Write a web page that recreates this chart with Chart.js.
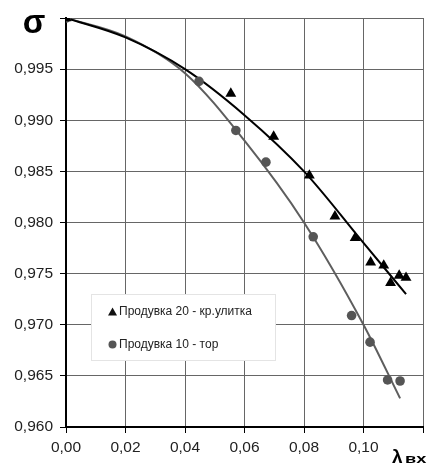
<!DOCTYPE html>
<html>
<head>
<meta charset="utf-8">
<script src="https://cdn.jsdelivr.net/npm/chart.js@4"></script>
<style>
  body { margin: 0; background: #fff; }
  canvas { display: block; }
</style>
</head>
<body>
<canvas id="chart" width="433" height="464"></canvas>
<script>
// measured points - Продувка 20 (triangles)
const blowX20 = [0, 0.0554, 0.0698, 0.0818, 0.0904, 0.0972, 0.1024, 0.1068, 0.1091, 0.1120, 0.1143];
const blowY20 = [1.000, 0.9926, 0.9884, 0.9846, 0.9806, 0.9785, 0.9761, 0.9758, 0.9741, 0.9748, 0.9746];
// measured points - Продувка 10 (circles)
const blowX10 = [0, 0.0447, 0.0571, 0.0672, 0.0831, 0.0960, 0.1022, 0.1081, 0.1123];
const blowY10 = [1.000, 0.9938, 0.9890, 0.9859, 0.9786, 0.9709, 0.9683, 0.9646, 0.9645];
// trend curves
const trendX20 = [0, 0.02, 0.04, 0.06, 0.08, 0.10, 0.1143];
const trendY20 = [1.000, 0.9981, 0.9950, 0.9905, 0.9850, 0.9780, 0.9730];
const trendX10 = [0, 0.02, 0.04, 0.06, 0.08, 0.10, 0.1123];
const trendY10 = [1.000, 0.9982, 0.9946, 0.9880, 0.9800, 0.9700, 0.9628];

const labels = ['Продувка 20 - кр.улитка', 'Продувка 10 - тор'];
const xTicks = [0, 0.02, 0.04, 0.06, 0.08, 0.10, 0.12];
const yTicks = [0.960, 0.965, 0.970, 0.975, 0.980, 0.985, 0.990, 0.995, 1.000];

const FONT = '"Liberation Sans", Arial, sans-serif';

function pts(xs, ys) {
    return xs.map((x, i) => ({ x: x, y: ys[i] }));
}
function comma(v, d) {
    return v.toFixed(d).replace('.', ',');
}

// draws σ, λвх and the boxed legend on top of the plot
const extrasPlugin = {
    id: 'extras',
    afterDraw(chart) {
        const ctx = chart.ctx;
        ctx.save();

        // axis names
        ctx.fillStyle = '#000';
        ctx.textBaseline = 'alphabetic';
        ctx.textAlign = 'center';
        ctx.font = 'bold 33px ' + FONT;
        ctx.fillText('σ', 34, 33);

        ctx.textAlign = 'left';
        ctx.font = 'bold 19px ' + FONT;
        ctx.fillText('λ', 392, 463);
        ctx.save();
        ctx.translate(405, 463);
        ctx.scale(1.4, 1);
        ctx.font = 'bold 13px ' + FONT;
        ctx.fillText('вх', 0, 0);
        ctx.restore();

        // legend box
        const lx = 91, ly = 294, lw = 184, lh = 66;
        ctx.fillStyle = '#fff';
        ctx.fillRect(lx, ly, lw, lh);
        ctx.strokeStyle = '#e4e4e4';
        ctx.lineWidth = 1;
        ctx.strokeRect(lx + 0.5, ly + 0.5, lw, lh);

        ctx.font = '12px ' + FONT;
        ctx.textBaseline = 'middle';
        ctx.fillStyle = '#222';
        ctx.fillText(labels[0], 119, 312);
        ctx.fillText(labels[1], 119, 345);

        ctx.fillStyle = '#111';
        ctx.beginPath();
        ctx.moveTo(112.5, 307.5);
        ctx.lineTo(117, 315.5);
        ctx.lineTo(108, 315.5);
        ctx.closePath();
        ctx.fill();

        ctx.fillStyle = '#555';
        ctx.beginPath();
        ctx.arc(112.5, 344.5, 4, 0, Math.PI * 2);
        ctx.fill();

        ctx.restore();
    }
};

const ctx = document.getElementById('chart').getContext('2d');
const chart = new Chart(ctx, {
    type: 'scatter',
    data: {
        datasets: [
            {
                label: labels[0] + ' trend',
                data: pts(trendX20, trendY20),
                showLine: true,
                borderColor: '#000',
                borderWidth: 2,
                pointRadius: 0,
                cubicInterpolationMode: 'monotone',
                order: 3
            },
            {
                label: labels[1] + ' trend',
                data: pts(trendX10, trendY10),
                showLine: true,
                borderColor: '#5e5e5e',
                borderWidth: 2,
                pointRadius: 0,
                cubicInterpolationMode: 'monotone',
                order: 4
            },
            {
                label: labels[0],
                data: pts(blowX20, blowY20),
                pointStyle: 'triangle',
                pointRadius: 6.3,
                backgroundColor: '#000',
                borderColor: '#000',
                borderWidth: 0,
                order: 1
            },
            {
                label: labels[1],
                data: pts(blowX10, blowY10),
                pointStyle: 'circle',
                pointRadius: 4.8,
                backgroundColor: '#555',
                borderColor: '#555',
                borderWidth: 0,
                order: 2
            }
        ]
    },
    options: {
        responsive: false,
        animation: false,
        layout: { padding: { top: 18, right: 10, left: 0, bottom: 0 } },
        plugins: {
            legend: { display: false },
            tooltip: { enabled: false }
        },
        scales: {
            x: {
                type: 'linear',
                min: 0,
                max: 0.12,
                afterBuildTicks: scale => { scale.ticks = xTicks.map(v => ({ value: v })); },
                afterFit: scale => { scale.height = 37; },
                grid: { color: '#666', lineWidth: 1, tickLength: 6, tickColor: '#000' },
                border: { color: '#000', width: 2 },
                ticks: {
                    padding: 5,
                    color: '#222',
                    font: { family: FONT, size: 15.5 },
                    maxRotation: 0,
                    callback: v => (v > 0.1199 ? '' : comma(v, 2))
                }
            },
            y: {
                type: 'linear',
                min: 0.96,
                max: 1.0,
                afterBuildTicks: scale => { scale.ticks = yTicks.map(v => ({ value: v })); },
                afterFit: scale => { scale.width = 66; },
                grid: { color: '#666', lineWidth: 1, tickLength: 6, tickColor: '#000' },
                border: { color: '#000', width: 2 },
                ticks: {
                    padding: 7,
                    color: '#222',
                    font: { family: FONT, size: 15.5 },
                    callback: v => (v > 0.9999 ? '' : comma(v, 3))
                }
            }
        }
    },
    plugins: [extrasPlugin]
});
</script>
</body>
</html>
